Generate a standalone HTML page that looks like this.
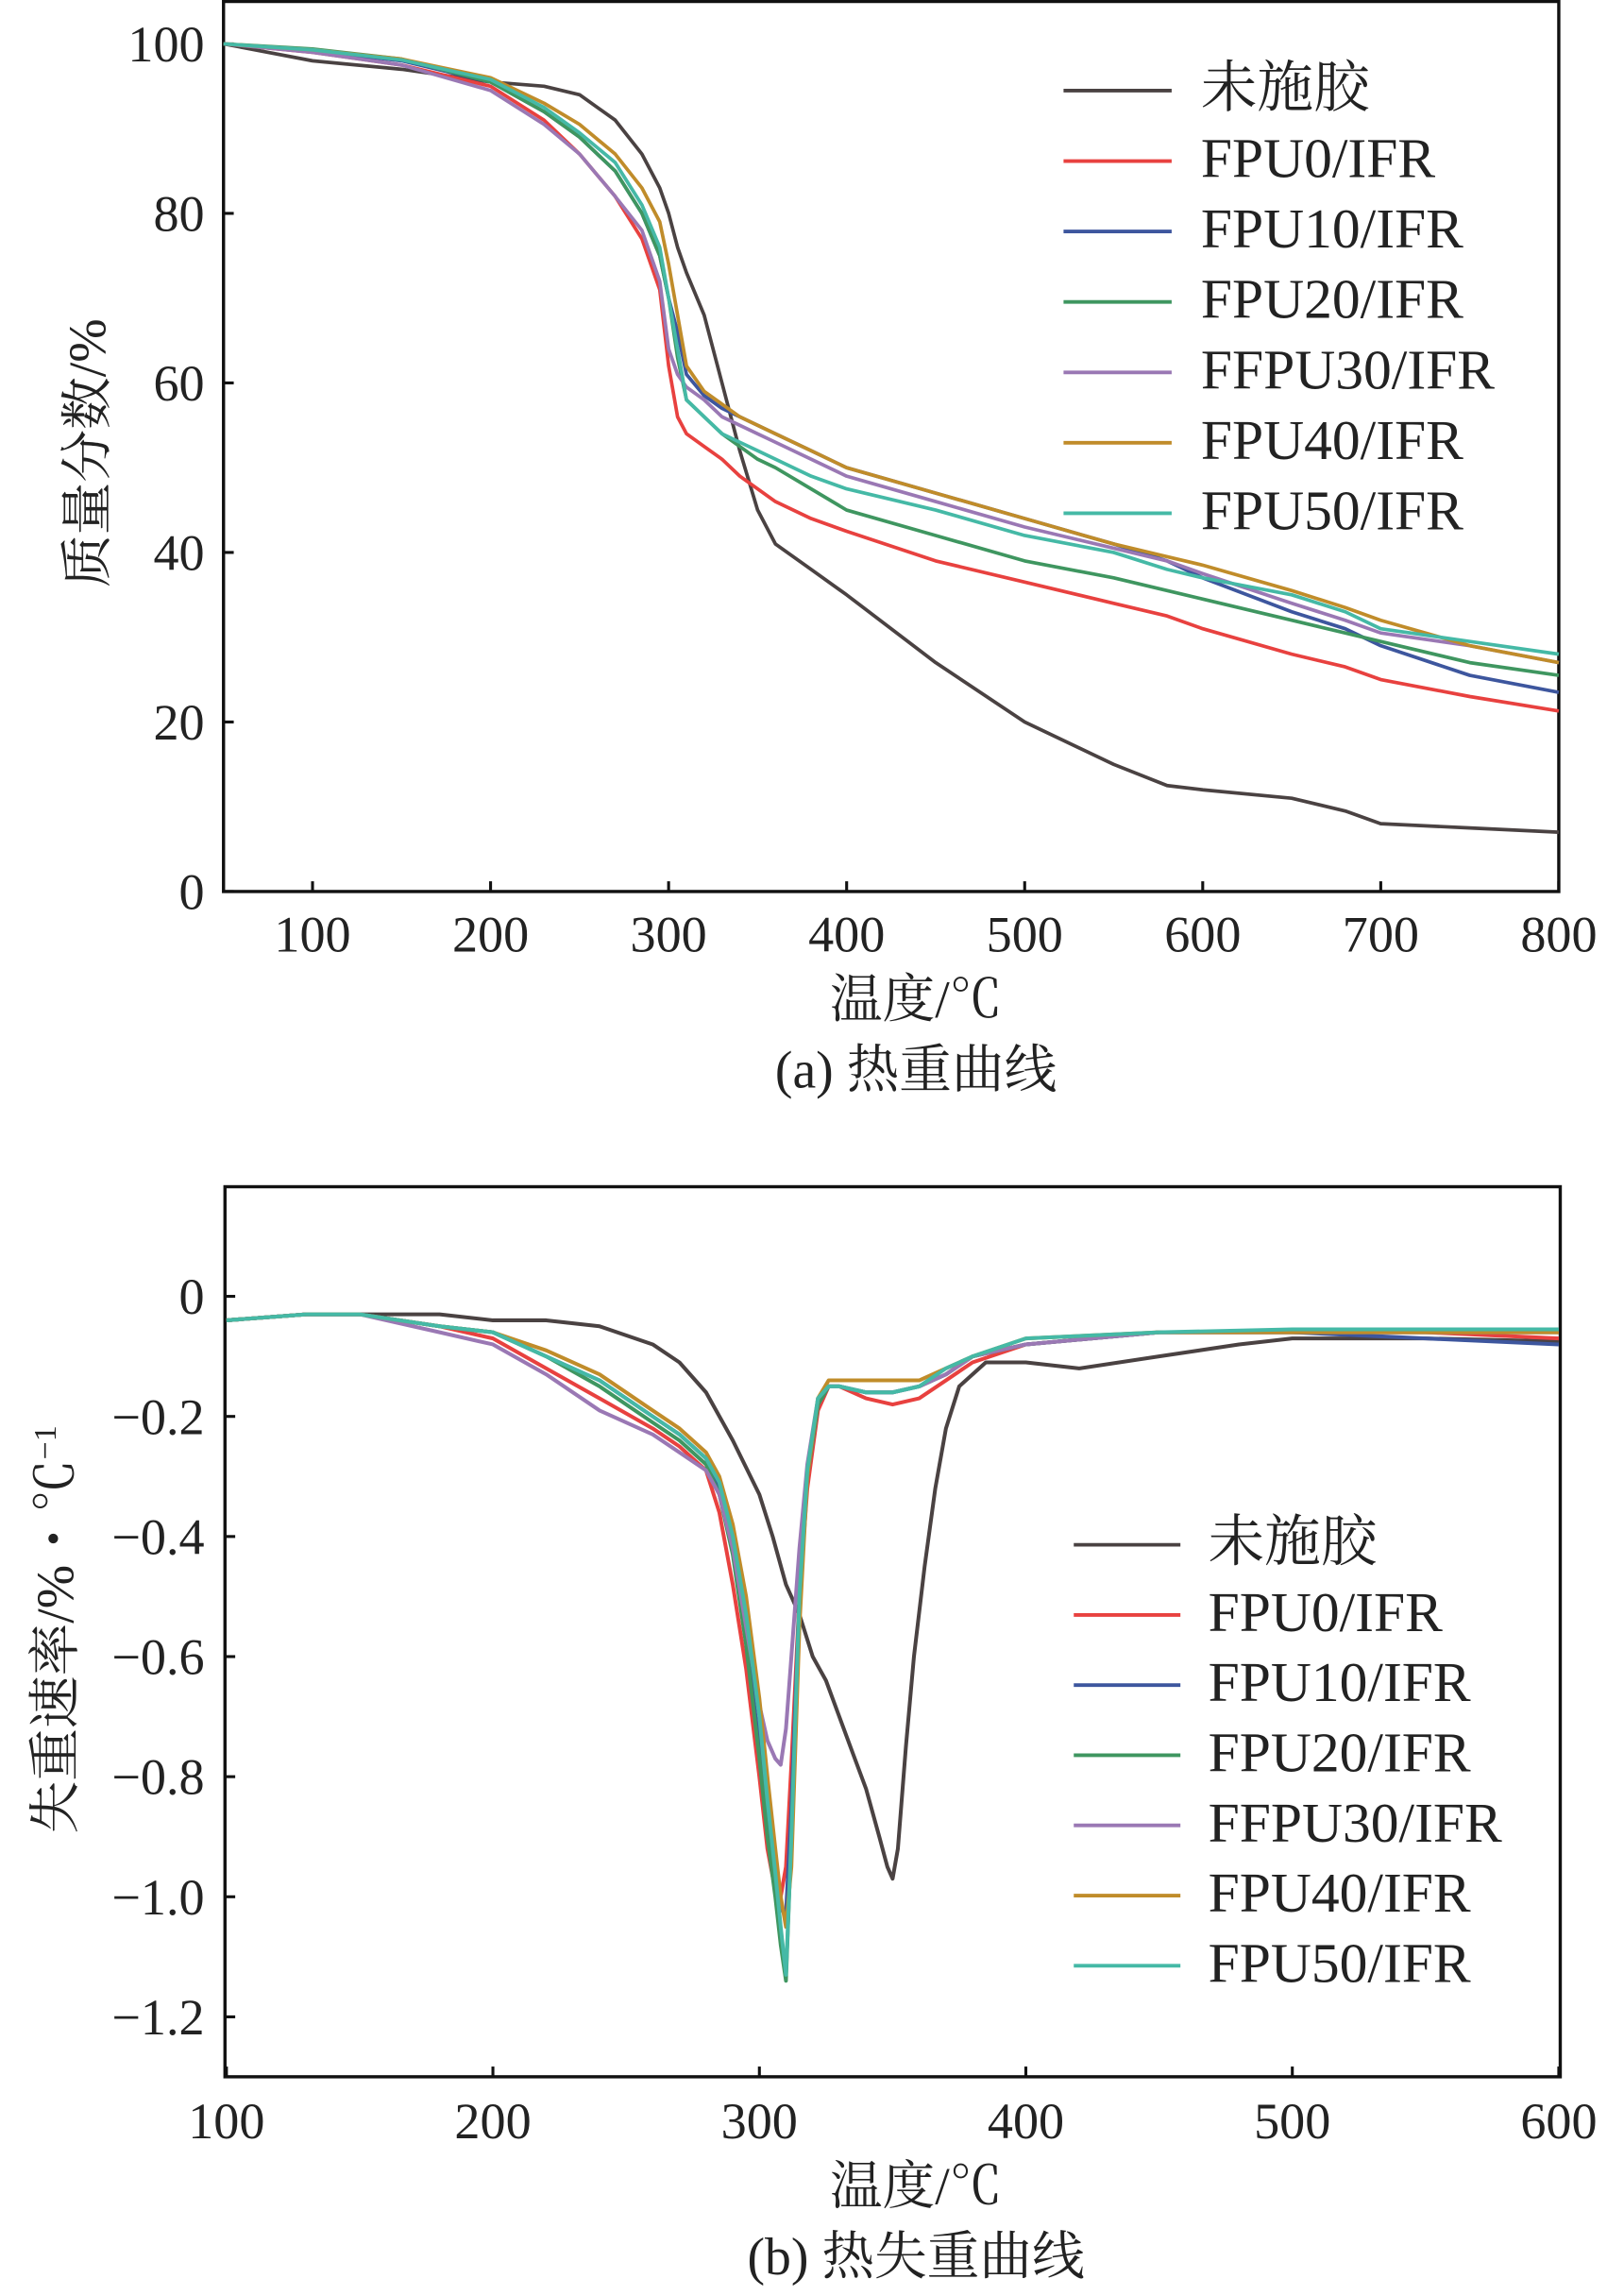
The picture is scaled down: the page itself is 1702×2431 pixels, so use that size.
<!DOCTYPE html>
<html><head><meta charset="utf-8"><style>
html,body{margin:0;padding:0;background:#fff;}
svg{display:block}
text{font-family:"Liberation Serif","Noto Serif CJK SC",serif;fill:#222;}
</style></head><body>
<svg id="fig" width="1702" height="2431" viewBox="0 0 1100 1571" preserveAspectRatio="none" xmlns="http://www.w3.org/2000/svg">
<g id="ga"></g>
<g id="gb"></g>
</svg>
<script>
// ---------- Chart (a) data ----------
const seriesNames = ["未施胶","FPU0/IFR","FPU10/IFR","FPU20/IFR","FFPU30/IFR","FPU40/IFR","FPU50/IFR"];
const seriesColors = ["#4a4242","#e8413f","#3d569e","#3f9660","#9a78b4","#c08c2a","#45b9a6"];
const tgTemps = [50,100,150,200,230,250,270,285,295,300,305,310,320,330,340,350,360,380,400,450,500,550,580,600,650,680,700,750,800];
const tgBlack = [100,98,97,95.5,95,94,91,87,83,80,76,73,68,60,52,45,41,38,35,27,20,15,12.5,12,11,9.5,8,7.5,7];
const tgRed   = [100,99,97.5,95,91,87,82,77,71,62,56,54,52.5,51,49,47.5,46,44,42.5,39,36.5,34,32.5,31,28,26.5,25,23,21.3];
const tgBlue  = [100,99.2,98,95.5,92,89,85,80,75,70,66,61,58.5,57,56,55,54,52,50,47,44,41,39,37,33,31,29,25.5,23.5];
const tgGreen = [100,99.4,98.2,95.5,92,89,85,80,75,70,63,58,56,54,52.5,51,50,47.5,45,42,39,37,35.5,34.5,32,30.5,29.5,27,25.5];
const tgPurple= [100,99,97.5,94.5,90.5,87,82,78,72,64,61,59.5,58,56,55,54,53,51,49,46,43,40.5,39,37.5,34,32,30.5,29,27];
const tgOrange= [100,99.3,98.2,96,93,90.5,87,83,79,74,68,62,59,57.5,56,55,54,52,50,47,44,41,39.5,38.5,35.5,33.5,32,29,27];
const tgCyan  = [100,99.3,98.1,95.8,92.5,89.5,86,81,76,70,64,58,56,54,53,52,51,49,47.5,45,42,40,38,37,35,33,31,29.5,28];
const tgXTicks = [100,200,300,400,500,600,700,800];
const tgYTicks = [0,20,40,60,80,100];

// ---------- Chart (b) data ----------
const dtgTemps = [100,130,150,180,200,220,240,260,270,280,285,290,295,300,303,306,308,310,312,315,318,322,326,330,340,350,360,370,380,400,450,500,550,600];
const dtgBlackT = [100,130,150,180,200,220,240,260,270,280,290,300,305,310,315,320,325,330,335,340,345,348,350,352,355,358,362,366,370,375,385,400,420,450,480,500,550,600];
const dtgBlack  = [-0.04,-0.03,-0.03,-0.03,-0.04,-0.04,-0.05,-0.08,-0.11,-0.16,-0.24,-0.33,-0.4,-0.48,-0.53,-0.6,-0.64,-0.7,-0.76,-0.82,-0.9,-0.95,-0.97,-0.92,-0.75,-0.6,-0.45,-0.32,-0.22,-0.15,-0.11,-0.11,-0.12,-0.1,-0.08,-0.07,-0.07,-0.075];
const dtgRed    = [-0.04,-0.03,-0.03,-0.05,-0.07,-0.12,-0.17,-0.22,-0.25,-0.29,-0.36,-0.48,-0.62,-0.8,-0.92,-0.99,-1.0,-0.95,-0.78,-0.5,-0.32,-0.19,-0.15,-0.15,-0.17,-0.18,-0.17,-0.14,-0.11,-0.08,-0.06,-0.06,-0.06,-0.07];
const dtgBlue   = [-0.04,-0.03,-0.03,-0.05,-0.06,-0.1,-0.14,-0.2,-0.23,-0.27,-0.32,-0.42,-0.57,-0.75,-0.88,-0.97,-1.02,-1.03,-0.85,-0.5,-0.3,-0.18,-0.15,-0.15,-0.16,-0.16,-0.15,-0.13,-0.1,-0.08,-0.06,-0.06,-0.07,-0.08];
const dtgGreen  = [-0.04,-0.03,-0.03,-0.05,-0.06,-0.1,-0.15,-0.21,-0.24,-0.28,-0.33,-0.43,-0.58,-0.77,-0.9,-1.0,-1.08,-1.14,-0.9,-0.52,-0.3,-0.18,-0.15,-0.15,-0.16,-0.16,-0.15,-0.13,-0.1,-0.08,-0.06,-0.06,-0.06,-0.06];
const dtgPurple = [-0.04,-0.03,-0.03,-0.06,-0.08,-0.13,-0.19,-0.23,-0.26,-0.29,-0.33,-0.42,-0.55,-0.68,-0.74,-0.77,-0.78,-0.72,-0.6,-0.42,-0.28,-0.17,-0.15,-0.15,-0.16,-0.16,-0.15,-0.13,-0.1,-0.08,-0.06,-0.06,-0.06,-0.06];
const dtgOrange = [-0.04,-0.03,-0.03,-0.05,-0.06,-0.09,-0.13,-0.19,-0.22,-0.26,-0.3,-0.38,-0.5,-0.67,-0.8,-0.92,-1.0,-1.05,-0.95,-0.55,-0.3,-0.17,-0.14,-0.14,-0.14,-0.14,-0.14,-0.12,-0.1,-0.07,-0.06,-0.06,-0.06,-0.06];
const dtgCyan   = [-0.04,-0.03,-0.03,-0.05,-0.06,-0.1,-0.14,-0.2,-0.23,-0.27,-0.31,-0.4,-0.53,-0.7,-0.84,-0.96,-1.05,-1.13,-0.9,-0.5,-0.29,-0.17,-0.15,-0.15,-0.16,-0.16,-0.15,-0.12,-0.1,-0.07,-0.06,-0.055,-0.055,-0.055];
const dtgXTicks = [100,200,300,400,500,600];
const dtgYTicks = [0,-0.2,-0.4,-0.6,-0.8,-1.0,-1.2];
const dtgYLabels = ["0","\u22120.2","\u22120.4","\u22120.6","\u22120.8","\u22121.0","\u22121.2"];

const NS="http://www.w3.org/2000/svg";
function mk(parent,tag,attrs,txt){const e=document.createElementNS(NS,tag);for(const k in attrs)e.setAttribute(k,attrs[k]);if(txt!==undefined)e.textContent=txt;parent.appendChild(e);return e;}

// ---- Chart a ----
const ga=document.getElementById('ga');
const ax={l:153,r:1067,t:1,b:610};
const xa=v=>ax.l+(v-50)/750*(ax.r-ax.l);
const ya=v=>610-(v-0)/100*580;
let box=mk(ga,'rect',{x:ax.l,y:ax.t,width:ax.r-ax.l,height:ax.b-ax.t,fill:'none',stroke:'#111','stroke-width':2.2});


tgXTicks.forEach(v=>{
  const t=mk(ga,'line',{x1:xa(v),x2:xa(v),y1:ax.b,y2:ax.b-7,stroke:'#111','stroke-width':2});
  
  const l=mk(ga,'text',{x:xa(v),y:651,'text-anchor':'middle','font-size':35},String(v));
  
});
tgYTicks.forEach(v=>{
  const t=mk(ga,'line',{x1:ax.l,x2:ax.l+7,y1:ya(v),y2:ya(v),stroke:'#111','stroke-width':2});
  
  const l=mk(ga,'text',{x:140,y:ya(v)+12,'text-anchor':'end','font-size':35},String(v));
  
});
const tgSeries=[tgBlack,tgRed,tgBlue,tgGreen,tgPurple,tgOrange,tgCyan];
tgSeries.forEach((s,i)=>{
  const d=s.map((v,j)=>(j?'L':'M')+xa(tgTemps[j]).toFixed(1)+','+ya(v).toFixed(1)).join('');
  const p=mk(ga,'path',{d:d,fill:'none',stroke:seriesColors[i],'stroke-width':2.4,'stroke-linejoin':'round'});
  
});
seriesNames.forEach((n,i)=>{
  const y=57+i*48.2;
  const l=mk(ga,'line',{x1:728,x2:802,y1:y+5,y2:y+5,stroke:seriesColors[i],'stroke-width':2.5});
  
  const t=mk(ga,'text',{x:822,y:y+16,'font-size':38.5},n);
  
});
let tt=mk(ga,'text',{x:627,y:696,'text-anchor':'middle','font-size':36},'温度/℃');

tt=mk(ga,'text',{x:627,y:744,'text-anchor':'middle','font-size':36},'(a) 热重曲线');

tt=mk(ga,'text',{x:0,y:0,'text-anchor':'middle','font-size':36,transform:'translate(72,310) rotate(-90)'},'质量分数/%');


// ---- Chart b ----
const gb=document.getElementById('gb');
const bx={l:154,r:1068,t:812,b:1421};
const xb=v=>155+(v-100)/500*912;
const yb=v=>887-(v/1.2)*493;
box=mk(gb,'rect',{x:bx.l,y:bx.t,width:bx.r-bx.l,height:bx.b-bx.t,fill:'none',stroke:'#111','stroke-width':2.2});


dtgXTicks.forEach(v=>{
  const t=mk(gb,'line',{x1:xb(v),x2:xb(v),y1:bx.b,y2:bx.b-7,stroke:'#111','stroke-width':2});
  
  const l=mk(gb,'text',{x:xb(v),y:1463,'text-anchor':'middle','font-size':35},String(v));
  
});
dtgYTicks.forEach((v,i)=>{
  const t=mk(gb,'line',{x1:bx.l,x2:bx.l+7,y1:yb(v),y2:yb(v),stroke:'#111','stroke-width':2});
  
  const l=mk(gb,'text',{x:140,y:yb(v)+12,'text-anchor':'end','font-size':35},dtgYLabels[i]);
  
});
const dtgSeries=[dtgBlack,dtgRed,dtgBlue,dtgGreen,dtgPurple,dtgOrange,dtgCyan];
dtgSeries.forEach((s,i)=>{
  const temps=i===0?dtgBlackT:dtgTemps;
  const d=s.map((v,j)=>(j?'L':'M')+xb(temps[j]).toFixed(1)+','+yb(v).toFixed(1)).join('');
  const p=mk(gb,'path',{d:d,fill:'none',stroke:seriesColors[i],'stroke-width':2.6,'stroke-linejoin':'round'});
  
});
seriesNames.forEach((n,i)=>{
  const y=1052+i*48;
  const l=mk(gb,'line',{x1:735,x2:808,y1:y+5,y2:y+5,stroke:seriesColors[i],'stroke-width':2.5});
  
  const t=mk(gb,'text',{x:827,y:y+16,'font-size':38.5},n);
  
});
tt=mk(gb,'text',{x:627,y:1508,'text-anchor':'middle','font-size':36},'温度/℃');

tt=mk(gb,'text',{x:627,y:1556,'text-anchor':'middle','font-size':36},'(b) 热失重曲线');

tt=mk(gb,'text',{x:0,y:0,'text-anchor':'middle','font-size':36,transform:'translate(50,1115) rotate(-90)'},'失重速率/%・℃');

const sup=mk(tt,'tspan',{dy:-12,'font-size':22},'−1');

</script>
</body></html>
